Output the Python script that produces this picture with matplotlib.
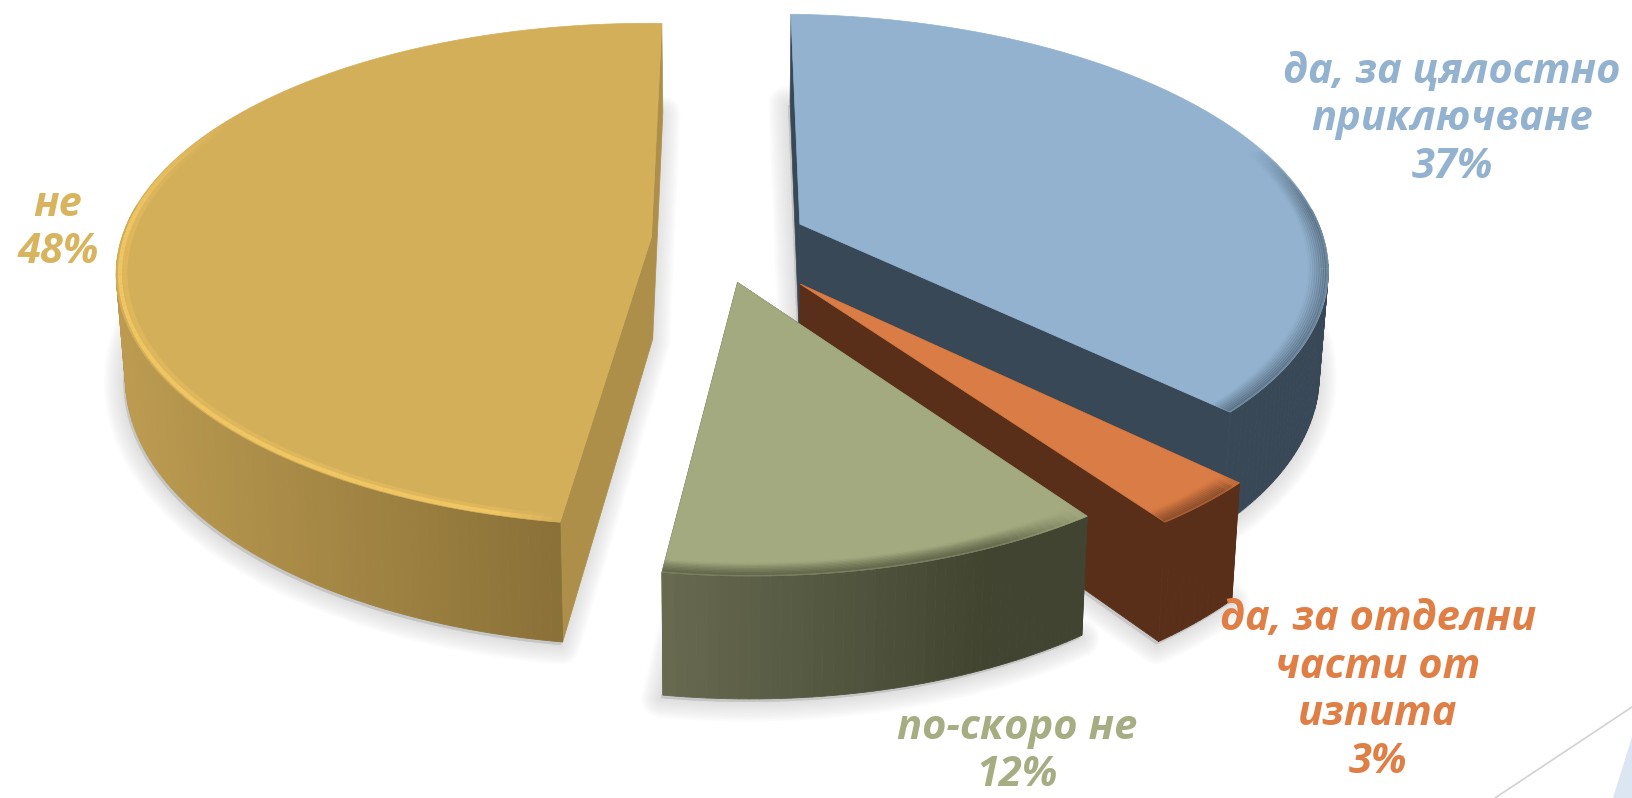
import numpy as np
import matplotlib
matplotlib.use('Agg')
import matplotlib.pyplot as plt
from matplotlib.collections import PolyCollection, LineCollection
from matplotlib.colors import to_rgb
from matplotlib.patches import Polygon

labels = ['да, за цялостно\nприключване', 'да, за отделни\nчасти от\nизпита', 'по-скоро не', 'не']
values = [37, 3, 12, 48]
top_colors = ['#92B2CF', '#D97C45', '#A4AA80', '#D4AF5A']
side_left = ['#394857', '#5A2F1A', '#686B50', '#BC9B50']
side_right = ['#394857', '#5A2F1A', '#404430', '#8A7138']
cut_colors = ['#394857', '#5A2F1A', '#404430', '#AD8F4A']
bevel_colors = ['#394857', '#5A2F1A', '#404430', '#F6CB65']
text_colors = ['#92B2CF', '#E07F45', '#A6AD82', '#D9B45E']

# slice offsets and radius in pie units, and label centres in pixels
explode_u = [0.131, 0.127, 0.012, -0.15]
explode_v = [0.06, -0.178, -0.175, 0.0]
radius = [0.992, 0.975, 0.96, 0.995]
bevel_from = [70, 133.2, 144, 188]
bevel_to = [133.2, 144, 187.2, 300]
label_x = [1452, 1378, 1017, 58]
label_y = [120, 691, 752, 229]

# projection of the tilted pie
cx, cy = 731, 238
rx, ry, up = 530, 6, 247
persp = 0.15
depth = 102

# rim bevel: radius, width, strength
soft_bevel = list(zip(np.linspace(0.997, 0.965, 9), [2.2] * 9, np.linspace(0.4, 0.03, 9)))
glow_bevel = [(0.993, 3, 0.85), (0.984, 3.5, 0.3)]


def project(u, v):
    d = 1 + persp * v
    return cx + rx * u / d, cy + (ry * u - up * v) / d


def lower(u, v):
    x, y = project(u, v)
    return cx + (x - cx) * 0.985, y + depth / (1 + persp * v)


def arc(i, a0, a1, r=1.0):
    t = np.radians(np.arange(a0, a1, 1.0).tolist() + [a1])
    return explode_u[i] + r * radius[i] * np.sin(t), explode_v[i] + r * radius[i] * np.cos(t)


fig = plt.figure(figsize=(16.32, 7.98), dpi=100)
ax = fig.add_axes([0, 0, 1, 1])
ax.set_xlim(0, 1632)
ax.set_ylim(798, 0)
ax.axis('off')

# slide decoration in the corner
ax.add_patch(Polygon([(1632, 737), (1632, 798), (1613, 798)], fc='#DCE6F2', ec='none'))
ax.plot([1632, 1495], [707, 798], color='#D0D3D6', lw=1.2)

angles = 360 * np.cumsum([0] + values) / sum(values)

# soft shadow from the bottom faces
for i in range(len(values)):
    u, v = arc(i, angles[i], angles[i + 1])
    u = np.r_[explode_u[i], u]
    v = np.r_[explode_v[i], v]
    x, y = lower(u, v)
    pts = np.c_[x - 2, y + 3]
    for lw in range(28, 0, -3):
        ax.add_patch(Polygon(pts, fc='#777777', ec='#777777', lw=lw, alpha=0.022, joinstyle='round', zorder=1))

for i in range(len(values)):
    z = 2 + i
    a0, a1 = angles[i], angles[i + 1]
    eu, ev = explode_u[i], explode_v[i]
    u, v = arc(i, a0, a1)

    # cut faces
    for k in (0, -1):
        tx, ty = project(np.array([eu, u[k]]), np.array([ev, v[k]]))
        bx, by = lower(np.array([eu, u[k]]), np.array([ev, v[k]]))
        ax.add_patch(Polygon(np.c_[np.r_[tx, bx[::-1]], np.r_[ty, by[::-1]]],
                             fc=cut_colors[i], ec=cut_colors[i], lw=0.5, zorder=z))

    # outer wall, shaded along x, near side only
    tx, ty = project(u, v)
    bx, by = lower(u, v)
    near = v - ev < 0.1
    quads = []
    cols = []
    c0, c1 = np.array(to_rgb(side_left[i])), np.array(to_rgb(side_right[i]))
    xmin, xmax = bx[near].min(), bx[near].max()
    if i == 2:
        xmax = xmin + 0.8 * (xmax - xmin)
    for j in range(len(u) - 1):
        if not near[j]:
            continue
        quads.append([(tx[j], ty[j]), (tx[j + 1], ty[j + 1]), (bx[j + 1], by[j + 1]), (bx[j], by[j])])
        f = np.clip((tx[j] - xmin) / (xmax - xmin), 0, 1)
        cols.append(c0 + (c1 - c0) * f)
    ax.add_collection(PolyCollection(quads, facecolors=cols, edgecolors=cols, linewidths=0.6, zorder=z))

    # top face
    x, y = project(np.r_[eu, u], np.r_[ev, v])
    ax.add_patch(Polygon(np.c_[x, y], fc=top_colors[i], ec=top_colors[i], lw=0.5, zorder=z))

    # bevel along the near rim
    col = to_rgb(bevel_colors[i])
    for r, lw, alpha in (glow_bevel if i == 3 else soft_bevel):
        bu, bv = arc(i, bevel_from[i], bevel_to[i], r)
        px, py = project(bu, bv)
        segs = [[(px[j], py[j]), (px[j + 1], py[j + 1])] for j in range(len(px) - 1)]
        n = len(segs)
        fade = np.minimum(1, (np.arange(n) + 1) / max(n * 0.25, 1))
        if i == 3:
            fade = np.minimum(fade[::-1], np.minimum(1, (np.arange(n) + 1) / 6))
        rgba = [(*col, alpha * a) for a in fade]
        ax.add_collection(LineCollection(segs, colors=rgba, linewidths=lw, zorder=z, capstyle='butt'))

# labels
for i in range(len(values)):
    ax.text(label_x[i], label_y[i], labels[i] + '\n' + str(values[i]) + '%', color=text_colors[i],
            ha='center', va='center', fontsize=30, family='Open Sans', style='italic', weight='bold',
            linespacing=1.22, zorder=10)

fig.savefig('out.png', dpi=100)
